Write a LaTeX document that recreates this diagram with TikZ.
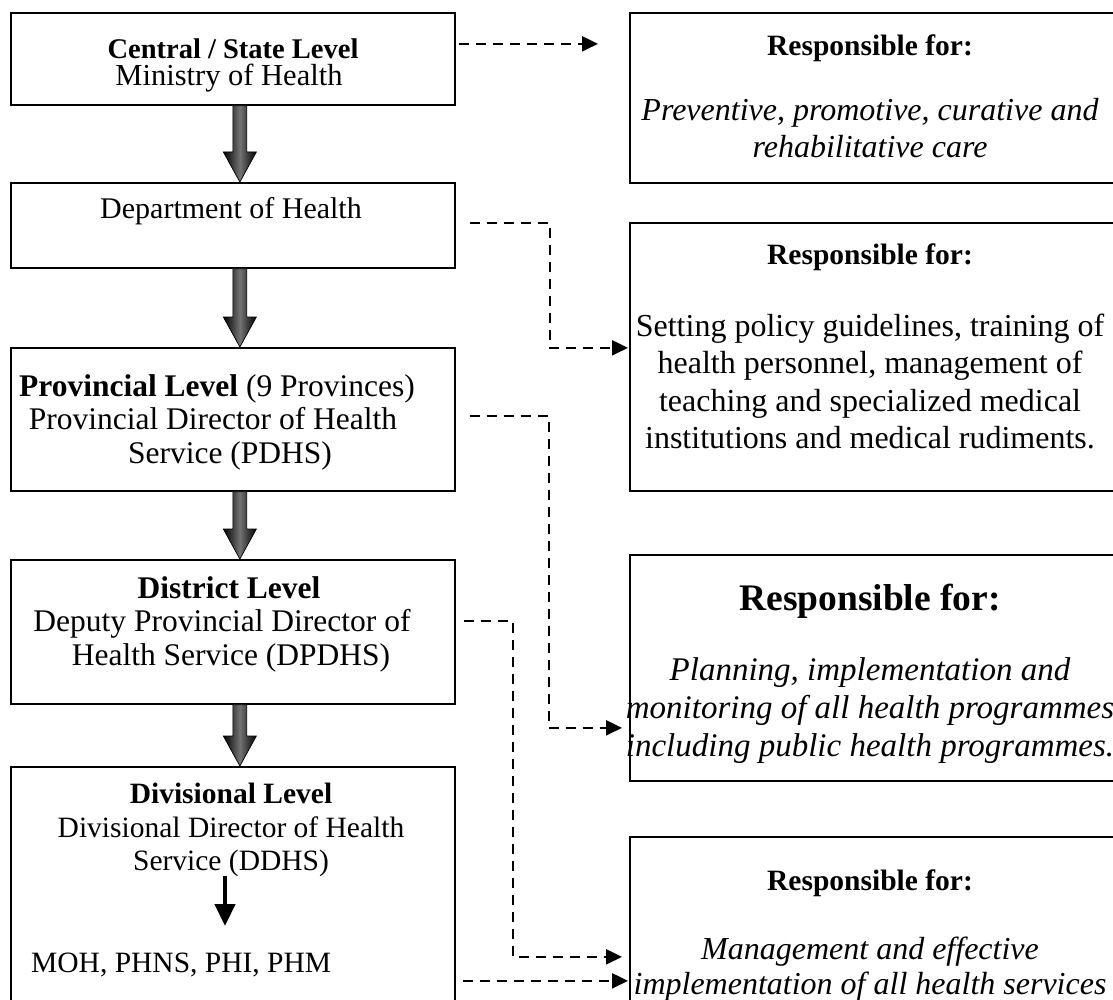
\documentclass[tikz,border=0pt]{standalone}
\usepackage{fontspec}
\setmainfont{Liberation Serif}
\usetikzlibrary{arrows.meta,calc}
\newcommand\hsBlockArrow[2]{%
  \fill[gray!60, shift={(2.5pt,-2.5pt)}] let \p1=($(#1.south)+(7,0)$), \p2=($(#2.north)+(7,0)$) in
    ({\x1-7pt},{\y1}) -- ({\x1+7pt},{\y1}) -- ({\x1+7pt},{\y2+30pt}) -- ({\x1+16.5pt},{\y2+30pt})
    -- ({\x1},{\y2}) -- ({\x1-16.5pt},{\y2+30pt}) -- ({\x1-7pt},{\y2+30pt}) -- cycle;
  \draw[line width=0.7pt, left color=black, right color=black, middle color=black!55]
    let \p1=($(#1.south)+(7,0)$), \p2=($(#2.north)+(7,0)$) in
    ({\x1-7pt},{\y1}) -- ({\x1+7pt},{\y1}) -- ({\x1+7pt},{\y2+30pt}) -- ({\x1+16.5pt},{\y2+30pt})
    -- ({\x1},{\y2}) -- ({\x1-16.5pt},{\y2+30pt}) -- ({\x1-7pt},{\y2+30pt}) -- cycle;
}
\begin{document}
\begin{tikzpicture}[x=1pt,y=-1pt,
  box/.style={draw=black, line width=1.7pt, rectangle, inner sep=0pt, anchor=north west},
  txt/.style={anchor=base, inner sep=0pt, font=\fontsize{31.5}{36}\selectfont},
  stxt/.style={anchor=base, inner sep=0pt, font=\fontsize{29.5}{34}\selectfont},
  rtxt/.style={anchor=base, inner sep=0pt, font=\fontsize{32}{36}\selectfont},
  htxt/.style={anchor=base, inner sep=0pt, font=\fontsize{29.5}{34}\selectfont\bfseries},
  itxt/.style={anchor=base, inner sep=0pt, font=\fontsize{33}{38}\selectfont},
  bigtxt/.style={anchor=base, inner sep=0pt, font=\fontsize{37.5}{42}\selectfont\bfseries},
  dasharrow/.style={line width=2.3pt, dash pattern=on 10pt off 7pt, -{Triangle[length=16pt,width=15pt]}},
  smallarrow/.style={line width=4.5pt, -{Triangle[length=22pt,width=20pt]}}]
\useasboundingbox (0,0) rectangle (1113,1000);
\clip (0,0) rectangle (1113,1000);
\fill[white] (0,0) rectangle (1113,1000);

% left boxes
\node[box, minimum width=444pt, minimum height=92pt] (b1) at (10,12) {};
\node[box, minimum width=444pt, minimum height=85pt] (b2) at (10,182) {};
\node[box, minimum width=444pt, minimum height=143pt] (b3) at (10,347) {};
\node[box, minimum width=444pt, minimum height=144pt] (b4) at (10,559) {};
\node[box, minimum width=444pt, minimum height=250pt] (b5) at (10,766) {};

% right boxes
\node[box, minimum width=500pt, minimum height=170pt] (r1) at (629,12) {};
\node[box, minimum width=500pt, minimum height=268pt] (r2) at (629,222) {};
\node[box, minimum width=500pt, minimum height=226pt] (r3) at (629,554) {};
\node[box, minimum width=500pt, minimum height=200pt] (r4) at (629,836) {};

% left texts
\node[txt, font=\fontsize{28.5}{33}\selectfont] (t1a) at (233,59) {\textbf{Central / State Level}};
\node[txt, font=\fontsize{30.5}{35}\selectfont] (t1b) at (229,86) {Ministry of Health};
\node[txt, font=\fontsize{30}{35}\selectfont] (t2a) at (231,219) {Department of Health};
\node[txt] (t3a) at (217,396) {\textbf{Provincial Level} (9 Provinces)};
\node[txt] (t3b) at (213,429) {Provincial Director of Health};
\node[txt] (t3c) at (230,463) {Service (PDHS)};
\node[txt] (t4a) at (229,598) {\textbf{District Level}};
\node[txt] (t4b) at (222,631) {Deputy Provincial Director of};
\node[txt] (t4c) at (231,665) {Health Service (DPDHS)};
\node[stxt] (t5a) at (231,803) {\textbf{Divisional Level}};
\node[stxt] (t5b) at (231,837) {Divisional Director of Health};
\node[stxt] (t5c) at (231,870) {Service (DDHS)};
\node[stxt, anchor=base west] (t5d) at (31,972) {MOH, PHNS, PHI, PHM};

% right texts
\node[htxt] (u1a) at (870,56) {Responsible for:};
\node[rtxt] (u1b) at (870,121) {\textit{Preventive, promotive, curative and}};
\node[rtxt] (u1c) at (870,158) {\textit{rehabilitative care}};
\node[htxt] (u2a) at (870,265) {Responsible for:};
\node[rtxt] (u2b) at (870,336) {Setting policy guidelines, training of};
\node[rtxt] (u2c) at (870,373) {health personnel, management of};
\node[rtxt] (u2d) at (870,411) {teaching and specialized medical};
\node[rtxt] (u2e) at (870,448) {institutions and medical rudiments.};
\node[bigtxt] (u3a) at (870,610) {Responsible for:};
\node[itxt] (u3b) at (870,680) {\textit{Planning, implementation and}};
\node[itxt] (u3c) at (870,718) {\textit{monitoring of all health programmes}};
\node[itxt] (u3d) at (870,756) {\textit{including public health programmes.}};
\node[htxt] (u4a) at (870,890) {Responsible for:};
\node[rtxt] (u4b) at (870,959) {\textit{Management and effective}};
\node[rtxt] (u4c) at (870,994) {\textit{implementation of all health services}};

% block arrows
\hsBlockArrow{b1}{b2}
\hsBlockArrow{b2}{b3}
\hsBlockArrow{b3}{b4}
\hsBlockArrow{b4}{b5}

% small arrow inside divisional box
\coordinate (sa1) at (225,876);
\coordinate (sa2) at (225,926);
\draw[smallarrow] (sa1) -- (sa2);

% dashed connectors
\coordinate (d1s) at ([xshift=3pt, yshift=15pt]b1.east);
\coordinate (d1e) at ($(r1.west |- d1s)+(-31,0)$);
\draw[dasharrow] (d1s) -- (d1e);

\coordinate (d2s) at ([xshift=14pt, yshift=2.5pt]b2.east);
\coordinate (d2e) at ([xshift=-1pt, yshift=9pt]r2.west);
\draw[dasharrow] (d2s) -- ++(80,0) |- (d2e);

\coordinate (d3s) at ([xshift=14pt, yshift=3.5pt]b3.east);
\coordinate (d3e) at ([xshift=-7pt, yshift=-60pt]r3.west);
\draw[dasharrow] (d3s) -- ++(79,0) |- (d3e);

\coordinate (d4s) at ([xshift=8pt, yshift=11pt]b4.east);
\coordinate (d4e) at ([xshift=-7pt, yshift=-20pt]r4.west);
\draw[dasharrow] (d4s) -- ++(49,0) |- (d4e);

\coordinate (d5s) at ([xshift=7pt, yshift=-89pt]b5.east);
\coordinate (d5e) at ($(r4.west |- d5s)+(-1,0)$);
\draw[dasharrow] (d5s) -- (d5e);
\end{tikzpicture}
\end{document}
